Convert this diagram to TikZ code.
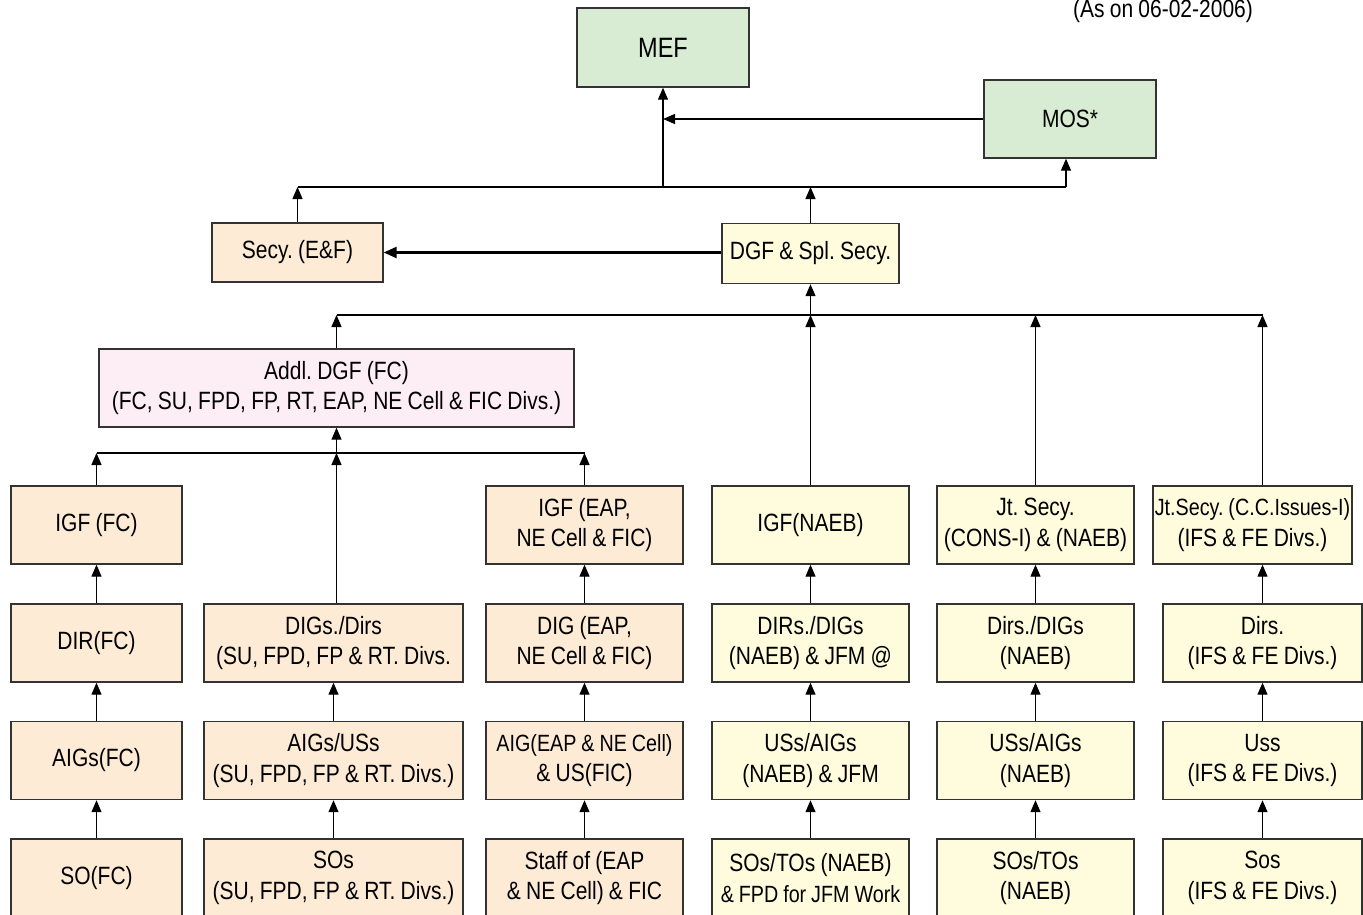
\documentclass[tikz,border=0pt]{standalone}
\usepackage{fontspec}
\setmainfont{Liberation Sans}[FakeStretch=0.84, WordSpace=0.9]
\usetikzlibrary{arrows.meta}
\definecolor{peach}{HTML}{FDEBD6}
\definecolor{lyellow}{HTML}{FEFCDC}
\definecolor{lgreen}{HTML}{D8ECD4}
\definecolor{lpink}{HTML}{FDEEF5}
\definecolor{edge}{HTML}{333333}
\newcommand{\tightline}[1]{{\fontsize{23.5}{30.5}\selectfont #1}}
\tikzset{
  txt/.style={font=\fontsize{25}{30.5}\selectfont\frenchspacing},
  box/.style={draw=edge, line width=1.4pt, inner sep=0pt, align=center,
    txt, minimum height=78pt},
  pbox/.style={box, fill=peach},
  ybox/.style={box, fill=lyellow},
  gbox/.style={box, fill=lgreen},
  kbox/.style={box, fill=lpink},
  conn/.style={line width=1.2pt, black},
  arr/.style={conn, -{Triangle[length=12pt,width=10pt]}},
  thickarr/.style={line width=2.6pt, black, -{Triangle[length=13pt,width=11pt]}},
}
\begin{document}
\begin{tikzpicture}[x=1pt,y=-1pt]
\useasboundingbox (0,0) rectangle (1363,915);

% top
\node[gbox, minimum width=172pt, minimum height=79pt, font=\fontsize{28}{30}\selectfont] (MEF) at (663,47.5) {MEF};
\node[gbox, minimum width=172pt] (MOS) at (1070,119) {MOS*};
\node[anchor=base, txt] (date) at (1163,18) {(As on 06-02-2006)};
\node[pbox, minimum width=171pt, minimum height=59pt] (SECY) at (297.5,252.5) {Secy. (E\&F)};
\node[ybox, minimum width=177pt, minimum height=60pt] (DGF) at (810.5,253.5) {DGF \& Spl. Secy.};
\node[kbox, minimum width=475pt] (ADDL) at (336.5,388) {Addl. DGF (FC)\\(FC, SU, FPD, FP, RT, EAP, NE Cell \& FIC Divs.)};

% column 1
\node[pbox, minimum width=171pt] (c1r1) at (96.5,525) {IGF (FC)};
\node[pbox, minimum width=171pt] (c1r2) at (96.5,643) {DIR(FC)};
\node[pbox, minimum width=171pt] (c1r3) at (96.5,760.5) {AIGs(FC)};
\node[pbox, minimum width=171pt] (c1r4) at (96.5,878) {SO(FC)};
% column 2
\node[pbox, minimum width=259pt] (c2r2) at (333.5,643) {DIGs./Dirs\\(SU, FPD, FP \& RT. Divs.};
\node[pbox, minimum width=259pt] (c2r3) at (333.5,760.5) {AIGs/USs\\(SU, FPD, FP \& RT. Divs.)};
\node[pbox, minimum width=259pt] (c2r4) at (333.5,878) {SOs\\(SU, FPD, FP \& RT. Divs.)};
% column 3
\node[pbox, minimum width=197pt] (c3r1) at (584.5,525) {IGF (EAP,\\NE Cell \& FIC)};
\node[pbox, minimum width=197pt] (c3r2) at (584.5,643) {DIG (EAP,\\NE Cell \& FIC)};
\node[pbox, minimum width=197pt] (c3r3) at (584.5,760.5) {\tightline{AIG(EAP \& NE Cell)}\\\& US(FIC)};
\node[pbox, minimum width=197pt] (c3r4) at (584.5,878) {Staff of (EAP\\\& NE Cell) \& FIC};
% column 4
\node[ybox, minimum width=197pt] (c4r1) at (810.5,525) {IGF(NAEB)};
\node[ybox, minimum width=197pt] (c4r2) at (810.5,643) {DIRs./DIGs\\(NAEB) \& JFM @};
\node[ybox, minimum width=197pt] (c4r3) at (810.5,760.5) {USs/AIGs\\(NAEB) \& JFM};
\node[ybox, minimum width=197pt] (c4r4) at (810.5,878) {SOs/TOs (NAEB)\\\tightline{\& FPD for JFM Work}};
% column 5
\node[ybox, minimum width=197pt] (c5r1) at (1035.5,525) {Jt. Secy.\\(CONS-I) \& (NAEB)};
\node[ybox, minimum width=197pt] (c5r2) at (1035.5,643) {Dirs./DIGs\\(NAEB)};
\node[ybox, minimum width=197pt] (c5r3) at (1035.5,760.5) {USs/AIGs\\(NAEB)};
\node[ybox, minimum width=197pt] (c5r4) at (1035.5,878) {SOs/TOs\\(NAEB)};
% column 6
\node[ybox, minimum width=199pt] (c6r1) at (1252.5,525) {\tightline{Jt.Secy. (C.C.Issues-I)}\\(IFS \& FE Divs.)};
\node[ybox, minimum width=199pt] (c6r2) at (1262.5,643) {Dirs.\\(IFS \& FE Divs.)};
\node[ybox, minimum width=199pt] (c6r3) at (1262.5,760.5) {Uss\\(IFS \& FE Divs.)};
\node[ybox, minimum width=199pt] (c6r4) at (1262.5,878) {Sos\\(IFS \& FE Divs.)};

% bus coordinates
\coordinate (b1) at (0,187);
\coordinate (b1R) at (1066,187);
\coordinate (b2) at (0,315);
\coordinate (b3) at (0,453);

% top bus
\draw[conn] (SECY.north |- b1) -- (b1R);
\draw[arr] (SECY.north) -- (SECY.north |- b1);
\draw[arr] (DGF.north) -- (DGF.north |- b1);
\draw[arr] (MEF.south |- b1) -- (MEF.south);
\draw[arr] (b1R) -- (b1R |- MOS.south);
\draw[arr] (MOS.west) -- (MEF.south |- MOS.west);
\draw[thickarr] (DGF.west |- SECY.east) -- (SECY.east);

% second bus
\draw[conn] (ADDL.north |- b2) -- (c6r2.north |- b2);
\draw[arr] (ADDL.north) -- (ADDL.north |- b2);
\draw[arr] (DGF.south |- b2) -- (DGF.south);
\draw[arr] (c4r1.north) -- (c4r1.north |- b2);
\draw[arr] (c5r1.north) -- (c5r1.north |- b2);
\draw[arr] (c6r2.north |- c6r1.north) -- (c6r2.north |- b2);

% third bus
\draw[conn] (c1r1.north |- b3) -- (c3r1.north |- b3);
\draw[arr] (c1r1.north) -- (c1r1.north |- b3);
\draw[arr] (ADDL.south |- c2r2.north) -- (ADDL.south |- b3);
\draw[arr] (c3r1.north) -- (c3r1.north |- b3);
\draw[arr] (ADDL.south |- b3) -- (ADDL.south);

% column arrows
\draw[arr] (c1r2.north) -- (c1r1.south);
\draw[arr] (c1r3.north) -- (c1r2.south);
\draw[arr] (c1r4.north) -- (c1r3.south);
\draw[arr] (c2r3.north) -- (c2r2.south);
\draw[arr] (c2r4.north) -- (c2r3.south);
\draw[arr] (c3r2.north) -- (c3r1.south);
\draw[arr] (c3r3.north) -- (c3r2.south);
\draw[arr] (c3r4.north) -- (c3r3.south);
\draw[arr] (c4r2.north) -- (c4r1.south);
\draw[arr] (c4r3.north) -- (c4r2.south);
\draw[arr] (c4r4.north) -- (c4r3.south);
\draw[arr] (c5r2.north) -- (c5r1.south);
\draw[arr] (c5r3.north) -- (c5r2.south);
\draw[arr] (c5r4.north) -- (c5r3.south);
\draw[arr] (c6r2.north) -- (c6r2.north |- c6r1.south);
\draw[arr] (c6r3.north) -- (c6r2.south);
\draw[arr] (c6r4.north) -- (c6r3.south);
\end{tikzpicture}
\end{document}
